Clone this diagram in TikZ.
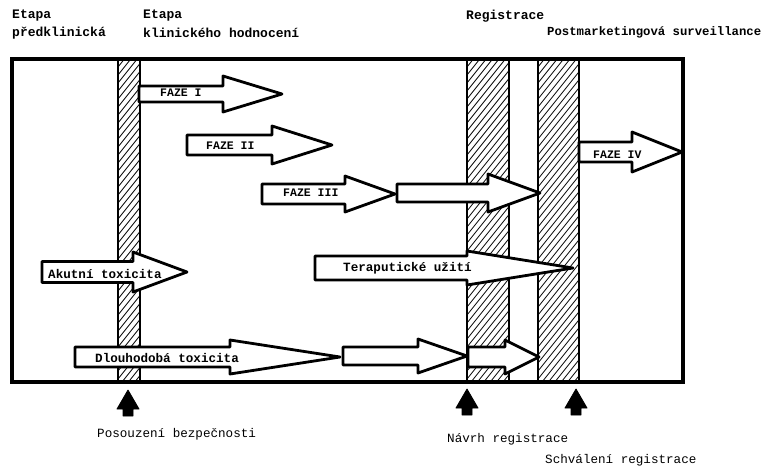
\documentclass[tikz,border=0pt]{standalone}
\usepackage{fontspec}
\setmonofont{Liberation Mono}
\tikzset{
  frameline/.style={line width=3.2pt},
  barline/.style={line width=1.4pt},
  hatchline/.style={line width=0.8pt},
  arrowbody/.style={draw, fill=white, line width=2.8pt, line join=round},
  uparrow/.style={fill=black, draw=black, line width=0.8pt, line join=round},
  headtext/.style={anchor=west, inner sep=0pt, font=\ttfamily\bfseries\fontsize{13}{15}\selectfont},
  armtext/.style={anchor=west, inner sep=0pt, font=\ttfamily\bfseries\fontsize{12.6}{14}\selectfont},
  fazetext/.style={anchor=west, inner sep=0pt, font=\ttfamily\bfseries\fontsize{11.5}{13}\selectfont},
  foottext/.style={anchor=west, inner sep=0pt, font=\ttfamily\fontsize{12.6}{14}\selectfont},
}
% block arrow: #1 shaft start x, #2 head start x, #3 tip x, #4 centre y, #5 half shaft, #6 half head
\newcommand\blockarr[6]{%
  \draw[arrowbody] (#1,#4-#5) -- (#2,#4-#5) -- (#2,#4-#6) -- (#3,#4)
    -- (#2,#4+#6) -- (#2,#4+#5) -- (#1,#4+#5) -- cycle;}
% hatched vertical bar between x = #1 and x = #2
\newcommand\hatchbar[2]{%
  \begin{scope}
    \clip (#1,59) rectangle (#2,382);
    \foreach \yy in {59,67,...,450}
      \draw[hatchline] (#1,\yy) -- (#2,\yy-1.25*#2+1.25*#1);
  \end{scope}
  \draw[barline] (#1,59) rectangle (#2,382);}
% solid upward marker arrow with tip at (#1,#2)
\newcommand\markarr[2]{%
  \fill[uparrow] (#1,#2) -- (#1+11,#2+19) -- (#1+5,#2+19) -- (#1+5,#2+26)
    -- (#1-5,#2+26) -- (#1-5,#2+19) -- (#1-11,#2+19) -- cycle;}
\begin{document}
\begin{tikzpicture}[x=1pt,y=-1pt]
\useasboundingbox (0,0) rectangle (767,466);

% headings of the stages
\node[headtext] (h1a) at (12,16) {Etapa};
\node[headtext] (h1b) at (12,33) {předklinická};
\node[headtext] (h2a) at (143,16) {Etapa};
\node[headtext] (h2b) at (143,33) {klinického hodnocení};
\node[headtext] (h3) at (466,16) {Registrace};
\node[headtext, font=\ttfamily\bfseries\fontsize{12.3}{14}\selectfont] (h4) at (547,32) {Postmarketingová surveillance};

% hatched milestones
\hatchbar{118}{140}
\hatchbar{467}{509}
\hatchbar{538}{579}

% outer frame
\draw[frameline] (12,59) rectangle (683,382);

% phases
\blockarr{139}{223}{282}{94}{8}{18}
\node[fazetext] (f1) at (160,93) {FAZE I};
\blockarr{187}{272}{332}{145}{10}{19}
\node[fazetext] (f2) at (206,146) {FAZE II};
\blockarr{262}{345}{395}{194}{10}{18}
\blockarr{397}{488}{540}{193}{9}{19}
\node[fazetext] (f3) at (283,193) {FAZE III};
\blockarr{579}{632}{682}{152}{10}{20}
\node[fazetext] (f4) at (593,155) {FAZE IV};

% studies
\blockarr{42}{133}{187}{272}{10.5}{20}
\node[armtext] (akut) at (48,274) {Akutní toxicita};
\blockarr{315}{467}{573}{268}{12}{17}
\node[armtext] (tera) at (343,268) {Teraputické užití};
\blockarr{75}{230}{340}{357}{10}{17}
\blockarr{343}{418}{467}{356}{9}{17}
\blockarr{468}{505}{539}{357}{10}{17}
\node[armtext] (dlouho) at (95,358) {Dlouhodobá toxicita};

% milestone markers
\markarr{128}{390}
\markarr{467}{389}
\markarr{576}{389}
\node[foottext] (m1) at (97,434) {Posouzení bezpečnosti};
\node[foottext] (m2) at (447,439) {Návrh registrace};
\node[foottext] (m3) at (545,460) {Schválení registrace};
\end{tikzpicture}
\end{document}
